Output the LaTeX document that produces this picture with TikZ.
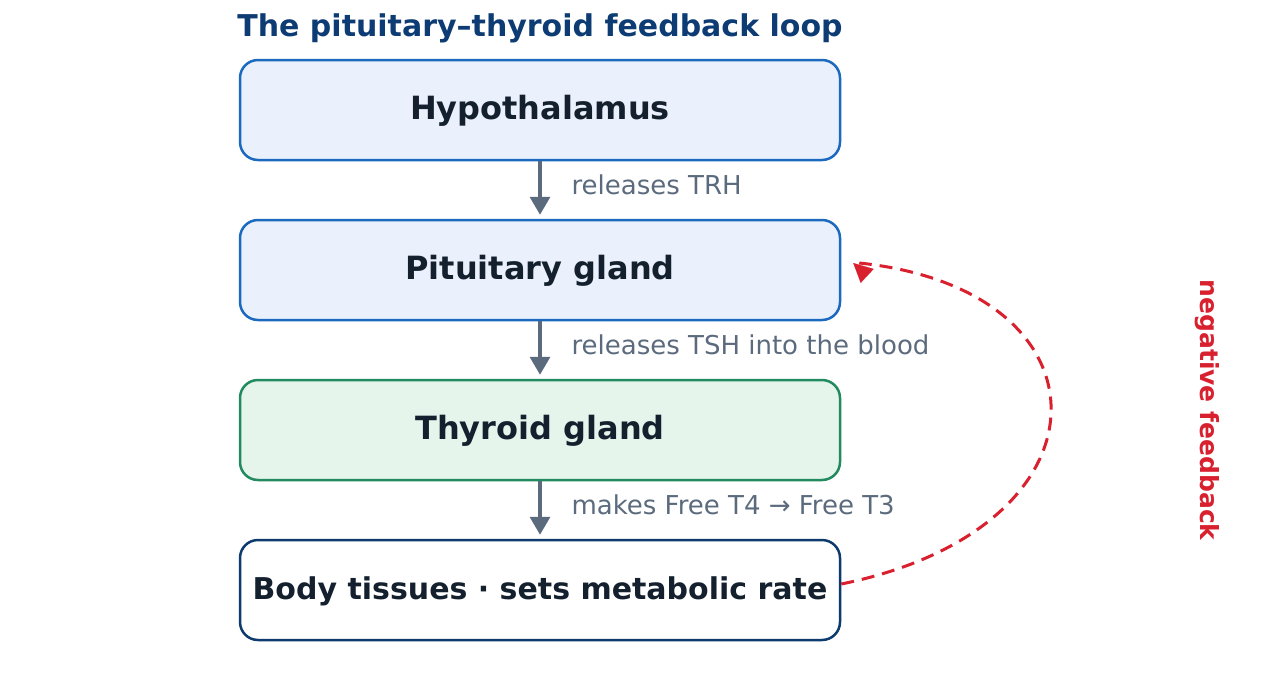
\documentclass[tikz,border=0pt]{standalone}
\usepackage{fontspec}
\setmainfont{DejaVu Sans}
\usetikzlibrary{arrows.meta}
\definecolor{titlec}{HTML}{0D3B73}
\definecolor{txt}{HTML}{14202E}
\definecolor{bluebd}{HTML}{1B6AC0}
\definecolor{bluefill}{HTML}{EAF1FC}
\definecolor{greenbd}{HTML}{218A5E}
\definecolor{greenfill}{HTML}{E5F5EC}
\definecolor{navybd}{HTML}{0D3B6E}
\definecolor{lblc}{HTML}{5B6B7D}
\definecolor{redc}{HTML}{D9202E}
\begin{document}
\begin{tikzpicture}[x=1pt,y=-1pt,
  box/.style={draw, rounded corners=18pt, minimum width=600pt, minimum height=100pt,
    line width=2.5pt, text=txt, text height=24pt, text depth=5pt,
    font=\fontsize{32}{38}\selectfont\bfseries},
  flow/.style={draw=lblc, line width=3.5pt, -{Triangle[length=18pt,width=20pt]}, shorten >=4pt},
  lbl/.style={anchor=west, text=lblc, font=\fontsize{26}{31}\selectfont},
  fb/.style={draw=redc, line width=3pt, dash pattern=on 13pt off 8pt},
  fbtip/.style={draw=redc, fill=redc, line width=0.1pt, -{Triangle[length=19pt,width=19pt]}}]
\useasboundingbox (0,0) rectangle (1280,680);
\node[text=titlec, font=\fontsize{30}{36}\selectfont\bfseries] (title) at (540,28) {The pituitary–thyroid feedback loop};
\node[box, draw=bluebd, fill=bluefill] (hyp) at (540,110) {Hypothalamus};
\node[box, draw=bluebd, fill=bluefill] (pit) at (540,270) {Pituitary gland};
\node[box, draw=greenbd, fill=greenfill] (thy) at (540,430) {Thyroid gland};
\node[box, draw=navybd, fill=white, font=\fontsize{30}{36}\selectfont\bfseries] (body) at (540,590) {Body tissues · sets metabolic rate};
\draw[flow] (hyp) -- (pit);
\draw[flow] (pit) -- (thy);
\draw[flow] (thy) -- (body);
\node[lbl] (l1) at (568,185) {releases TRH};
\node[lbl] (l2) at (568,345) {releases TSH into the blood};
\node[lbl] (l3) at (568,505) {makes Free T4 → Free T3};
\coordinate (fbs) at ([yshift=6pt]body.east);
\coordinate (fbe) at ([xshift=12pt,yshift=7pt]pit.east);
\coordinate (fbk) at ([xshift=14pt,yshift=-13pt]fbe);
\draw[fb] (fbs) .. controls (1118,528) and (1118,290) .. ([xshift=6pt]fbe);
\draw[fbtip] (fbk) -- (fbe);
\node[rotate=-90, text=redc, font=\fontsize{25}{30}\selectfont\bfseries] (neg) at (1207,410) {negative feedback};
\end{tikzpicture}
\end{document}
